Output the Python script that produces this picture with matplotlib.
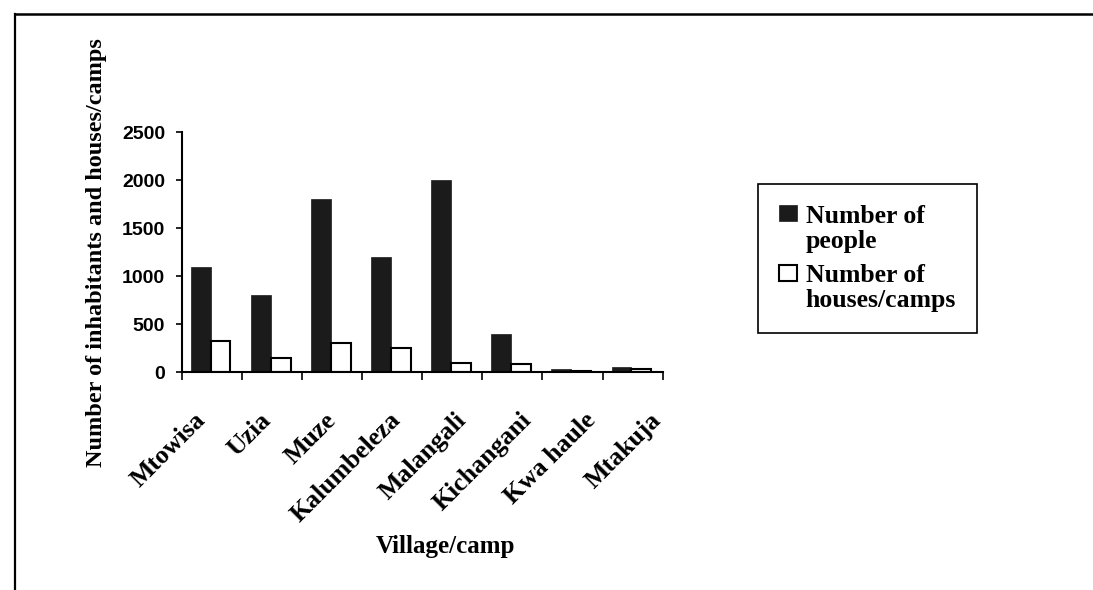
import matplotlib
matplotlib.use('Agg')
import matplotlib.pyplot as plt
import numpy as np
from matplotlib.lines import Line2D
from matplotlib.patches import Rectangle
from matplotlib.legend_handler import HandlerPatch
from matplotlib.transforms import ScaledTranslation

villages = ['Mtowisa', 'Uzia', 'Muze', 'Kalumbeleza', 'Malangali',
            'Kichangani', 'Kwa haule', 'Mtakuja']
people = [1100, 800, 1800, 1200, 2000, 400, 30, 60]
houses = [330, 150, 300, 250, 100, 90, 10, 30]
y_ticks = [0, 500, 1000, 1500, 2000, 2500]

serif = {'family': 'Liberation Serif', 'weight': 'bold'}
sans = {'family': 'Liberation Sans', 'weight': 'bold'}

W, H = 1093, 590
fig = plt.figure(figsize=(W / 100, H / 100), dpi=100)
ax = fig.add_axes([181.7 / W, 1 - 372.3 / H, 481 / W, 240 / H])

x = np.arange(len(villages))
w = 0.33
bars_people = ax.bar(x - w / 2 - 0.02, people, w, color='#1b1b1b',
                     edgecolor='#1b1b1b', linewidth=0.5)
bars_houses = ax.bar(x + w / 2 - 0.02, houses, w, color='white',
                     edgecolor='black', linewidth=1.5)

ax.set_xlim(-0.5, len(villages) - 0.5)
ax.set_ylim(0, 2500)
for side in ['top', 'right']:
    ax.spines[side].set_visible(False)
for side in ['left', 'bottom']:
    ax.spines[side].set_linewidth(1.5)

ax.set_yticks(y_ticks)
ax.set_yticklabels([str(v) for v in y_ticks], fontdict=sans, fontsize=14)
ax.tick_params(axis='y', direction='out', length=4, width=1.2, pad=8)

# category labels at centres, tick marks at the boundaries
ax.set_xticks(x)
ax.set_xticks(np.arange(-0.5, len(villages), 1), minor=True)
ax.tick_params(axis='x', which='major', length=0, pad=32)
ax.tick_params(axis='x', which='minor', direction='out', length=6, width=1.2)
ax.set_xticklabels(villages, fontdict=serif, fontsize=18.5, rotation=45,
                   ha='right', va='center', rotation_mode='anchor')
for i, lbl in enumerate(ax.get_xticklabels()):
    dx = (-10 + 5 * i) / 100
    lbl.set_transform(lbl.get_transform() +
                      ScaledTranslation(dx, 0, fig.dpi_scale_trans))

ax.set_ylabel('Number of inhabitants and houses/camps', fontdict=serif,
              fontsize=17.5)
ax.yaxis.set_label_coords(-0.155, 0.5)
fig.text(445 / W, 1 - 553 / H, 'Village/camp', ha='center', va='baseline',
         fontdict=serif, fontsize=18)


def raised_square(legend, orig_handle, xdescent, ydescent, width, height,
                  fontsize):
    return Rectangle((-xdescent, -ydescent + 0.62 * fontsize), width,
                     0.6 * fontsize)


leg = fig.legend(handles=[bars_people.patches[0], bars_houses.patches[0]],
                 labels=['Number of\npeople', 'Number of\nhouses/camps'],
                 loc='upper left', mode='expand',
                 bbox_to_anchor=(758 / W, 1 - 330 / H, 219 / W, 146 / H),
                 borderaxespad=0, borderpad=0.8, fancybox=False,
                 framealpha=1, edgecolor='black', prop=dict(serif, size=18.5),
                 handlelength=0.7, handleheight=0.6, handletextpad=0.35,
                 labelspacing=0.45,
                 handler_map={Rectangle: HandlerPatch(patch_func=raised_square)})
leg.get_frame().set_linewidth(1.2)
for t in leg.get_texts():
    t.set_linespacing(1.12)

# page frame
fig.add_artist(Line2D([15 / W, 15 / W], [0, 1 - 14 / H], color='black',
                      lw=1.6, transform=fig.transFigure))
fig.add_artist(Line2D([15 / W, 1], [1 - 14 / H, 1 - 14 / H], color='black',
                      lw=1.8, transform=fig.transFigure))

fig.savefig('out.png', dpi=100)
